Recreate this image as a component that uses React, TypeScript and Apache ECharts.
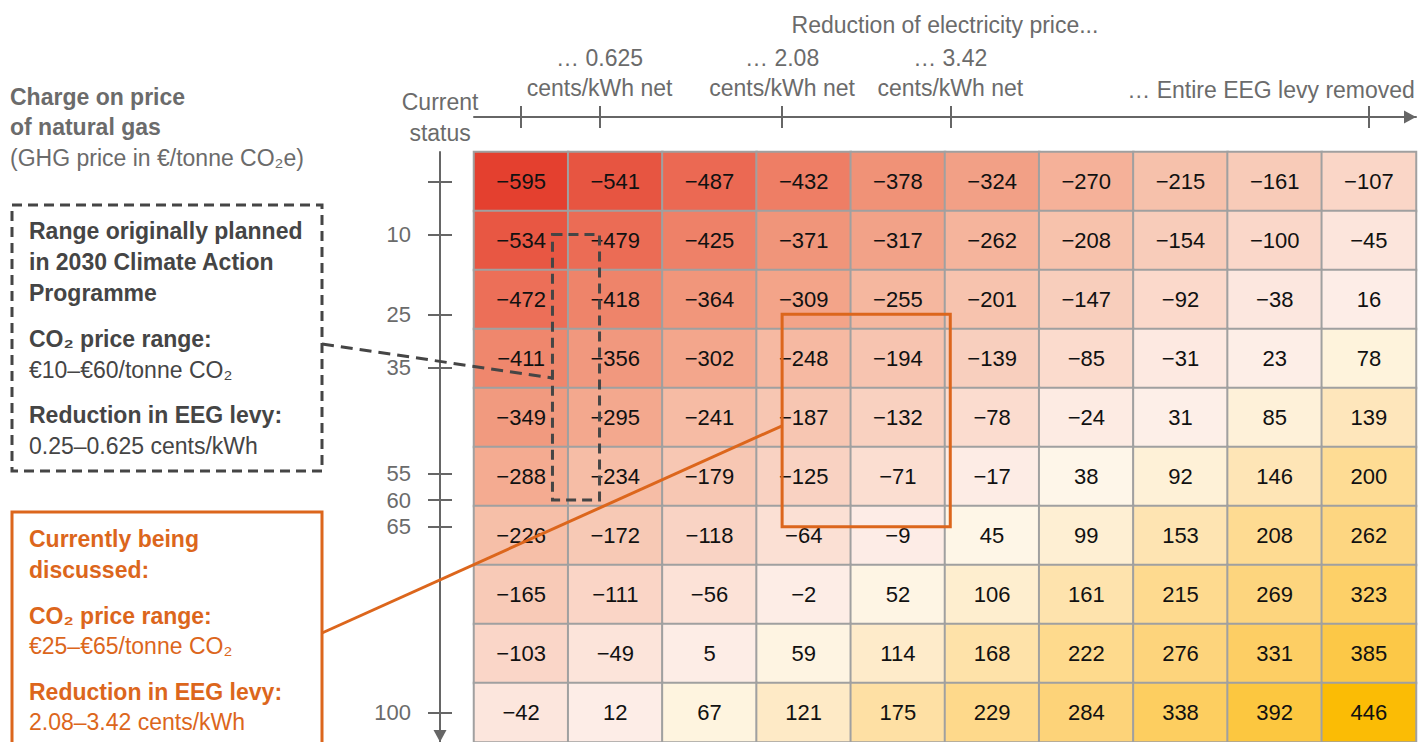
import React, { useEffect, useRef } from "react";
import * as echarts from "echarts";

// Columns: reduction of electricity price (cents/kWh), rows: GHG price (€/tonne CO2e)
const EEG_LEVY = 6.756;
const columnLabels = ["0", "0.75", "1.50", "2.25", "3.00", "3.75", "4.50", "5.25", "6.01", "6.756"];
const rowLabels = ["0", "11", "22", "33", "44", "56", "67", "78", "89", "100"];

const row0 = [-595, -541, -487, -432, -378, -324, -270, -215, -161, -107];
const row1 = [-534, -479, -425, -371, -317, -262, -208, -154, -100, -45];
const row2 = [-472, -418, -364, -309, -255, -201, -147, -92, -38, 16];
const row3 = [-411, -356, -302, -248, -194, -139, -85, -31, 23, 78];
const row4 = [-349, -295, -241, -187, -132, -78, -24, 31, 85, 139];
const row5 = [-288, -234, -179, -125, -71, -17, 38, 92, 146, 200];
const row6 = [-226, -172, -118, -64, -9, 45, 99, 153, 208, 262];
const row7 = [-165, -111, -56, -2, 52, 106, 161, 215, 269, 323];
const row8 = [-103, -49, 5, 59, 114, 168, 222, 276, 331, 385];
const row9 = [-42, 12, 67, 121, 175, 229, 284, 338, 392, 446];
const rows = [row0, row1, row2, row3, row4, row5, row6, row7, row8, row9];

const topTickValues = [0, 0.625, 2.08, 3.42, EEG_LEVY];
const topLabelValues = [0.625, 2.08, 3.42];
const leftTickValues = [0, 10, 25, 35, 55, 60, 65, 100];
const leftLabelValues = [10, 25, 35, 55, 60, 65, 100];

// annotated ranges
const plannedCents = [0.25, 0.625];
const plannedCO2 = [10, 60];
const discussedCents = [2.08, 3.42];
const discussedCO2 = [25, 65];
const plannedAnchorCO2 = 37;
const discussedAnchorCO2 = 46;

// colour stops (value -> colour)
const colorStops: [number, string][] = [
  [-595, "#e4402f"],
  [-480, "#eb6c55"],
  [-380, "#f09277"],
  [-300, "#f3a68c"],
  [-240, "#f6bca5"],
  [-180, "#f7c7b3"],
  [-125, "#f9d2c2"],
  [-78, "#fbdccf"],
  [-20, "#fdece5"],
  [33, "#fdeee8"],
  [36, "#fef7ea"],
  [90, "#fef1d8"],
  [140, "#fee6ba"],
  [200, "#fedc94"],
  [300, "#fdd274"],
  [385, "#fcc847"],
  [446, "#fbbc05"],
];

const FONT = "'Liberation Sans', Arial, Helvetica, sans-serif";
const GRAY = "#6b6b6b";
const DARK = "#454545";
const ORANGE = "#dc661c";
const TXT = 23;

function hexToRgb(h: string) {
  const n = parseInt(h.slice(1), 16);
  return [(n >> 16) & 255, (n >> 8) & 255, n & 255];
}
function colorAt(v: number) {
  for (let i = 0; i < colorStops.length - 1; i++) {
    const [a, ca] = colorStops[i];
    const [b, cb] = colorStops[i + 1];
    if (v >= a && v <= b) {
      const t = (v - a) / (b - a);
      const A = hexToRgb(ca);
      const B = hexToRgb(cb);
      const c = A.map((x, k) => Math.round(x + (B[k] - x) * t));
      return `rgb(${c[0]},${c[1]},${c[2]})`;
    }
  }
  return colorStops[colorStops.length - 1][1];
}

const MINV = -595;
const MAXV = 446;
const palette: string[] = [];
for (let i = 0; i <= 208; i++) palette.push(colorAt(MINV + ((MAXV - MINV) * i) / 208));

const fmt = (v: number) => (v < 0 ? "\u2212" + Math.abs(v) : String(v));
// the left (GHG price) axis runs downward: it is drawn as a normal value axis of negated prices
const down = (v: number) => -v;

export default function App() {
  const ref = useRef<HTMLDivElement>(null);
  useEffect(() => {
    document.body.style.margin = "0";
    const chart = echarts.init(ref.current!, null, { renderer: "svg" });
    const colStep = EEG_LEVY / 9;
    const xMin = -colStep / 2;
    const xMax = EEG_LEVY + colStep / 2;
    const yMin = -50 / 9;
    const yMax = 950 / 9;

    const data: any[] = [];
    rows.forEach((r, ri) => r.forEach((v, ci) => data.push([ci, ri, v])));

    const axisLineStyle = { color: "#666", width: 2 };
    const hidden = { show: false };

    const leftAxisBase = {
      type: "value",
      position: "left",
      offset: 34,
      min: down(yMax),
      max: down(yMin),
      splitLine: hidden,
    };

    chart.setOption({
      animation: false,
      textStyle: { fontFamily: FONT },
      grid: { left: 474, top: 152, width: 942, height: 596, containLabel: false },
      visualMap: {
        type: "continuous",
        show: false,
        min: MINV,
        max: MAXV,
        dimension: 2,
        seriesIndex: 0,
        inRange: { color: palette },
      },
      xAxis: [
        { type: "category", data: columnLabels, show: false },
        {
          type: "value",
          position: "top",
          offset: 35,
          min: xMin,
          max: xMax,
          axisLine: {
            show: true,
            onZero: false,
            lineStyle: axisLineStyle,
            symbol: ["none", "triangle"],
            symbolSize: [13, 12],
            symbolOffset: [0, -6],
          },
          axisTick: { show: true, customValues: topTickValues, length: 11, lineStyle: axisLineStyle },
          axisLabel: {
            show: true,
            customValues: topLabelValues,
            formatter: (v: number) => "\u2026 " + v + "\ncents/kWh net",
            color: GRAY,
            fontSize: TXT,
            lineHeight: 30,
            margin: 14,
            fontFamily: FONT,
          },
          splitLine: hidden,
        },
        {
          type: "value",
          position: "top",
          offset: 35,
          min: xMin,
          max: xMax,
          axisLine: { show: false, onZero: false },
          axisTick: { show: true, inside: true, customValues: topTickValues, length: 11, lineStyle: axisLineStyle },
          axisLabel: hidden,
          splitLine: hidden,
        },
      ],
      yAxis: [
        { type: "category", data: rowLabels, inverse: true, show: false },
        {
          ...leftAxisBase,
          axisLine: {
            show: true,
            onZero: false,
            lineStyle: axisLineStyle,
            symbol: ["triangle", "none"],
            symbolSize: [13, 12],
            symbolOffset: [6, 0],
          },
          axisTick: { show: true, customValues: leftTickValues.map(down), length: 12, lineStyle: axisLineStyle },
          axisLabel: {
            show: true,
            customValues: leftLabelValues.map(down),
            formatter: (v: number) => String(Math.abs(v)),
            color: GRAY,
            fontSize: 22,
            margin: 29,
            fontFamily: FONT,
          },
        },
        {
          ...leftAxisBase,
          axisLine: { show: false, onZero: false },
          axisTick: {
            show: true,
            inside: true,
            customValues: leftTickValues.map(down),
            length: 12,
            lineStyle: axisLineStyle,
          },
          axisLabel: hidden,
        },
      ],
      series: [
        {
          type: "heatmap",
          xAxisIndex: 0,
          yAxisIndex: 0,
          data,
          itemStyle: { borderColor: "#a0a0a0", borderWidth: 2 },
          label: {
            show: true,
            formatter: (p: any) => fmt(p.value[2]),
            color: "#111",
            fontSize: 22,
            fontFamily: FONT,
          },
          emphasis: { disabled: true },
        },
      ],
    });

    const px = (v: number) => chart.convertToPixel({ xAxisIndex: 1 }, v) as number;
    const py = (v: number) => chart.convertToPixel({ yAxisIndex: 1 }, down(v)) as number;

    const txt = (s: string, x: number, y: number, color: string, bold: boolean, align = "left", size = TXT) => ({
      type: "text",
      x,
      y,
      silent: true,
      z: 100,
      style: {
        text: s,
        fill: color,
        font: `${bold ? "bold " : ""}${size}px ${FONT}`,
        align,
        verticalAlign: "middle",
      },
    });

    const dashStyle = { stroke: DARK, lineWidth: 3, lineDash: [10, 6], fill: "none" };
    const orangeStyle = { stroke: ORANGE, lineWidth: 3, fill: "none" };

    const pX0 = px(plannedCents[0]);
    const pX1 = px(plannedCents[1]);
    const pY0 = py(plannedCO2[0]);
    const pY1 = py(plannedCO2[1]);
    const dX0 = px(discussedCents[0]);
    const dX1 = px(discussedCents[1]);
    const dY0 = py(discussedCO2[0]);
    const dY1 = py(discussedCO2[1]);
    const currentX = px(topTickValues[0]);
    const entireX = px(topTickValues[4]);

    const graphic: any[] = [
      // top labels
      txt("Reduction of electricity price...", 945, 25, GRAY, false, "center"),
      txt("Current", currentX - 81, 102, GRAY, false, "center"),
      txt("status", currentX - 81, 133, GRAY, false, "center"),
      txt("\u2026 Entire EEG levy removed", entireX + 46, 90, GRAY, false, "right"),
      // left title
      txt("Charge on price", 10, 97, GRAY, true),
      txt("of natural gas", 10, 127, GRAY, true),
      txt("(GHG price in \u20ac/tonne CO\u2082e)", 10, 158, GRAY, false),
      // dashed text box
      { type: "rect", z: 90, silent: true, shape: { x: 12, y: 205, width: 310, height: 266 }, style: { ...dashStyle } },
      txt("Range originally planned", 29, 231, DARK, true),
      txt("in 2030 Climate Action", 29, 262, DARK, true),
      txt("Programme", 29, 293, DARK, true),
      txt("CO\u2082 price range:", 29, 339, DARK, true),
      txt("\u20ac10\u2013\u20ac60/tonne CO\u2082", 29, 370, DARK, false),
      txt("Reduction in EEG levy:", 29, 415, DARK, true),
      txt("0.25\u20130.625 cents/kWh", 29, 446, DARK, false),
      // orange text box
      { type: "rect", z: 90, silent: true, shape: { x: 12, y: 512, width: 310, height: 260 }, style: { ...orangeStyle } },
      txt("Currently being", 29, 539, ORANGE, true),
      txt("discussed:", 29, 570, ORANGE, true),
      txt("CO\u2082 price range:", 29, 616, ORANGE, true),
      txt("\u20ac25\u2013\u20ac65/tonne CO\u2082", 29, 646, ORANGE, false),
      txt("Reduction in EEG levy:", 29, 692, ORANGE, true),
      txt("2.08\u20133.42 cents/kWh", 29, 722, ORANGE, false),
      // range boxes on the grid
      {
        type: "rect",
        z: 95,
        silent: true,
        shape: { x: pX0, y: pY0, width: pX1 - pX0, height: pY1 - pY0 },
        style: { ...dashStyle },
      },
      {
        type: "rect",
        z: 95,
        silent: true,
        shape: { x: dX0, y: dY0, width: dX1 - dX0, height: dY1 - dY0 },
        style: { ...orangeStyle },
      },
      // connectors
      {
        type: "line",
        z: 95,
        silent: true,
        shape: { x1: 322, y1: 344, x2: pX0, y2: py(plannedAnchorCO2) },
        style: { stroke: DARK, lineWidth: 3, lineDash: [12, 7] },
      },
      {
        type: "line",
        z: 95,
        silent: true,
        shape: { x1: 322, y1: 633, x2: dX0, y2: py(discussedAnchorCO2) },
        style: { stroke: ORANGE, lineWidth: 3 },
      },
    ];

    chart.setOption({ graphic });
    return () => chart.dispose();
  }, []);

  return (
    <div
      ref={ref}
      style={{ position: "fixed", left: 0, top: 0, width: 1419, height: 742, background: "#fff" }}
    />
  );
}
